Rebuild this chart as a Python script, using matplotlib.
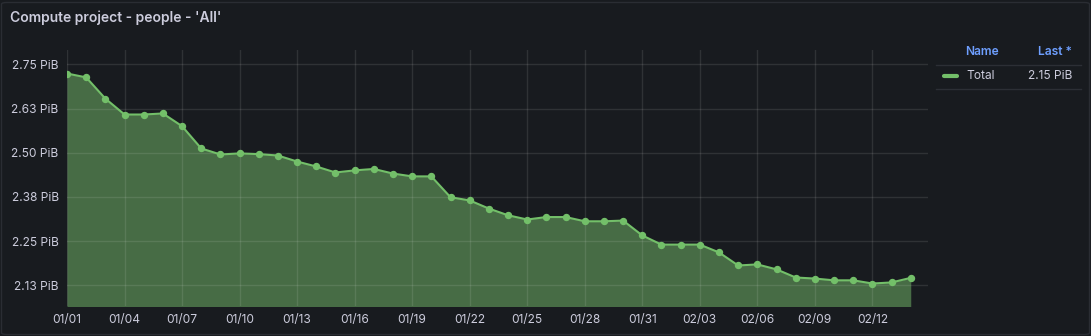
import numpy as np
import pandas as pd
import matplotlib
matplotlib.use("Agg")
import matplotlib.pyplot as plt
import matplotlib.dates as mdates
from matplotlib.patches import FancyBboxPatch
from matplotlib.lines import Line2D

plt.rcParams['font.family'] = ['Inter', 'DejaVu Sans']

# Daily totals (PiB)
dates = pd.date_range('2025-01-01', '2025-02-14', freq='D')
total_pib = [2.724, 2.713, 2.653, 2.608, 2.608, 2.611, 2.575, 2.512, 2.495, 2.498,
             2.496, 2.492, 2.475, 2.461, 2.444, 2.450, 2.454, 2.441, 2.433, 2.433,
             2.374, 2.365, 2.342, 2.323, 2.311, 2.318, 2.318, 2.306, 2.306, 2.308,
             2.266, 2.240, 2.240, 2.240, 2.218, 2.181, 2.184, 2.170, 2.147, 2.144,
             2.139, 2.139, 2.130, 2.133, 2.146]

y_ticks = [2.125, 2.25, 2.375, 2.5, 2.625, 2.75]
y_tick_labels = ['2.13 PiB', '2.25 PiB', '2.38 PiB', '2.50 PiB', '2.63 PiB', '2.75 PiB']

bg = '#181b1f'
txt = '#ccccdc'
green = '#73bf69'
gridc = '#2c2f35'

fig = plt.figure(figsize=(10.91, 3.36), dpi=100)
fig.patch.set_facecolor(bg)

# panel border
fig.patches.append(FancyBboxPatch((1.5 / 1091, 1.5 / 336), 1088 / 1091, 332 / 336,
                                  boxstyle='round,pad=0,rounding_size=0.005',
                                  transform=fig.transFigure, facecolor=bg,
                                  edgecolor='#2a2d33', linewidth=1, zorder=-10))

fig.text(10 / 1091, 1 - 18 / 336, "Compute project - people - 'All'", color=txt,
         fontsize=10, fontweight='semibold', va='center', ha='left')

ax = fig.add_axes([67 / 1091, 30 / 336, 861 / 1091, 256 / 336])
ax.set_facecolor(bg)

ax.fill_between(dates, total_pib, 2.0, color='#476c45', zorder=1, linewidth=0)
ax.plot(dates, total_pib, color=green, linewidth=1.5, marker='o', markersize=4.3, zorder=3)

ax.set_ylim(2.0664, 2.7905)
ax.set_xlim(dates[0], dates[0] + pd.Timedelta(days=44.9))
ax.set_yticks(y_ticks)
ax.set_yticklabels(y_tick_labels)
xt = pd.date_range('2025-01-01', '2025-02-12', freq='3D')
ax.set_xticks(xt)
ax.xaxis.set_major_formatter(mdates.DateFormatter('%m/%d'))

ax.grid(True, color='white', alpha=0.1, linewidth=1, zorder=2)
ax.set_axisbelow(False)
for s in ax.spines.values():
    s.set_visible(False)
ax.tick_params(length=0, colors=txt, labelsize=8.6, pad=6)

# legend table
fig.text(999 / 1091, 1 - 52 / 336, 'Name', color='#6e9fff', fontsize=8.6,
         fontweight='semibold', ha='right', va='center')
fig.text(1072 / 1091, 1 - 52 / 336, 'Last *', color='#6e9fff', fontsize=8.6,
         fontweight='semibold', ha='right', va='center')
for yy in (65, 89):
    fig.add_artist(Line2D([936 / 1091, 1081 / 1091], [1 - yy / 336, 1 - yy / 336],
                          color=gridc, linewidth=1))
fig.add_artist(Line2D([944 / 1091, 957 / 1091], [1 - 76 / 336, 1 - 76 / 336],
                      color=green, linewidth=3, solid_capstyle='round'))
fig.text(966 / 1091, 1 - 76 / 336, 'Total', color=txt, fontsize=8.6, ha='left', va='center')
fig.text(1072 / 1091, 1 - 76 / 336, '%.2f PiB' % total_pib[-1], color=txt, fontsize=8.6,
         ha='right', va='center')

fig.savefig('out.png', dpi=100, facecolor=bg)
